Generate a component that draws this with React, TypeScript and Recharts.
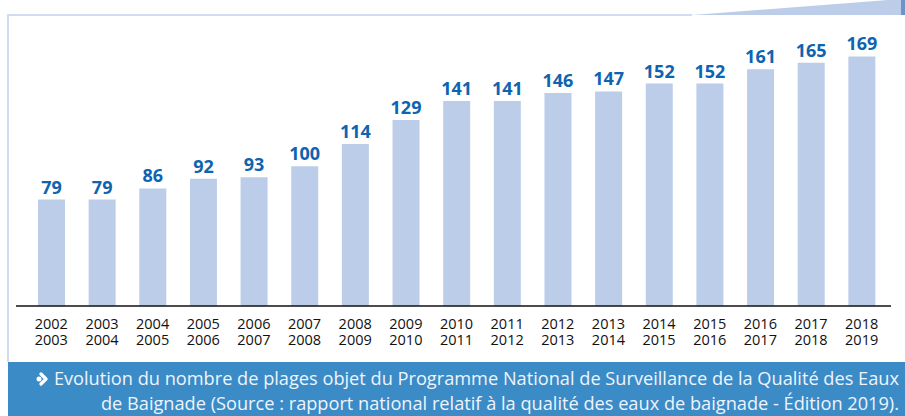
import { BarChart, Bar, XAxis, YAxis, LabelList } from 'recharts';

const seasons = [
  '2002-2003', '2003-2004', '2004-2005', '2005-2006', '2006-2007', '2007-2008',
  '2008-2009', '2009-2010', '2010-2011', '2011-2012', '2012-2013', '2013-2014',
  '2014-2015', '2015-2016', '2016-2017', '2017-2018', '2018-2019',
];
const plages = [79, 79, 86, 92, 93, 100, 114, 129, 141, 141, 146, 147, 152, 152, 161, 165, 169];

const data = seasons.map((s, i) => ({ name: s, value: plages[i] }));

const captionLine1 = 'Evolution du nombre de plages objet du Programme National de Surveillance de la Qualité des Eaux';
const captionLine2 = 'de Baignade (Source : rapport national relatif à la qualité des eaux de baignade - Édition 2019).';

// two-line season label under each bar
const SeasonTick = (props: any) => {
  const { x, y, payload } = props;
  const [a, b] = String(payload.value).split('-');
  return (
    <text x={x} y={y + 15} textAnchor="middle" fontSize={14.5} fill="#111" fontFamily="'Open Sans', sans-serif">
      <tspan x={x}>{a}</tspan>
      <tspan x={x} dy={15.5}>{b}</tspan>
    </text>
  );
};

const App = () => (
  <div style={{ position: 'absolute', left: 0, top: 0, width: 905, height: 416, background: '#fff', overflow: 'hidden' }}>
    <svg width={905} height={416} style={{ position: 'absolute', left: 0, top: 0 }}>
      <polyline points="8,362 8,15 692,15" fill="none" stroke="#c3d1ed" strokeWidth={1.5} />
      <polygon points="692,15 888,0 905,0 905,15" fill="#bccdea" />
      <rect x={901} y={0} width={4} height={15} fill="#6f93c4" />
    </svg>
    <div style={{ position: 'absolute', left: 0, top: 0 }}>
      <BarChart width={905} height={362} data={data} margin={{ top: 39, right: 14, left: 16, bottom: 16 }}>
        <YAxis hide domain={[12, 180]} allowDataOverflow />
        <XAxis
          dataKey="name"
          height={40}
          tickLine={false}
          axisLine={{ stroke: '#111', strokeWidth: 1.5 }}
          padding={{ left: 10, right: 4 }}
          interval={0}
          tick={<SeasonTick />}
        />
        <Bar dataKey="value" fill="#bccdea" barSize={27} isAnimationActive={false}>
          <LabelList dataKey="value" position="top" offset={6} fill="#0d64b0" fontSize={18} fontWeight={700} fontFamily="'Open Sans', sans-serif" />
        </Bar>
      </BarChart>
    </div>
    <div style={{ position: 'absolute', left: 8, top: 362, width: 897, height: 54, background: '#3b8bc7', color: '#eef4fb', fontFamily: "'Open Sans', sans-serif", fontSize: 18.2, lineHeight: '25px', textAlign: 'right', paddingRight: 6, boxSizing: 'border-box', paddingTop: 4, whiteSpace: 'nowrap' }}>
      <div>
        <svg width={14} height={14} viewBox="0 0 14 14" style={{ marginRight: 4, verticalAlign: -1 }}>
          <circle cx={3} cy={7} r={2.5} fill="#fff" />
          <polyline points="5,2 10,7 5,12" fill="none" stroke="#fff" strokeWidth={3.2} strokeLinecap="round" strokeLinejoin="round" />
        </svg>
        {captionLine1}
      </div>
      <div>{captionLine2}</div>
    </div>
  </div>
);

export default App;
